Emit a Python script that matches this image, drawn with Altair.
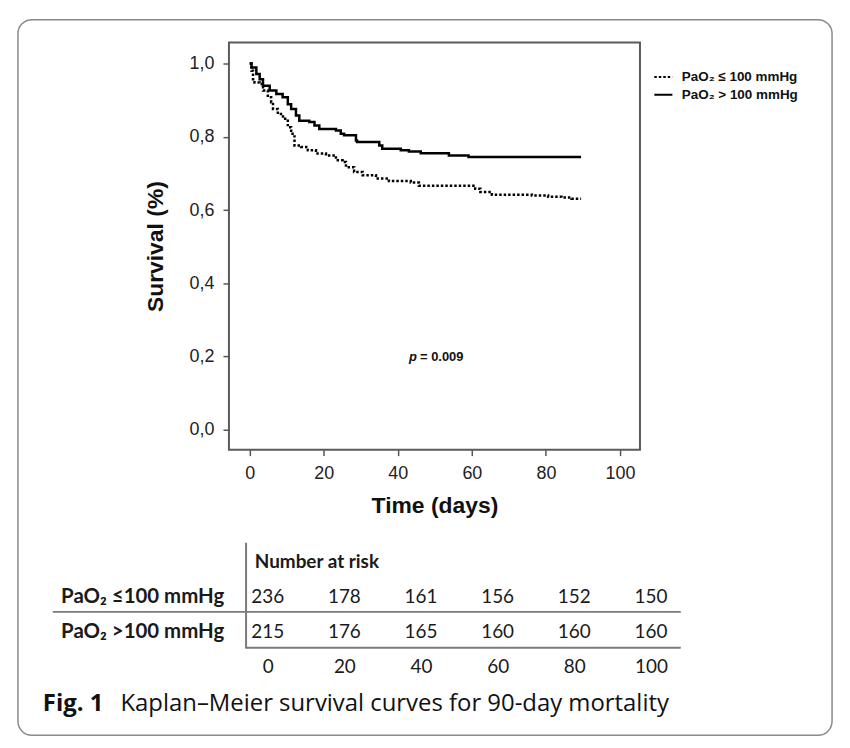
import altair as alt
import pandas as pd

# ---- Kaplan-Meier step points ----
LOW = "PaO₂ ≤ 100 mmHg"
HIGH = "PaO₂ > 100 mmHg"

low_days = [0, 0.5, 0.9, 1.3, 2.7, 3.6, 4.9, 5.8, 6.3, 7.6, 9.0, 10.3, 11.2, 12.1, 13.9,
            15.7, 17.9, 20.6, 23.3, 25.1, 26.0, 28.2, 30.5, 34.1, 37.6, 43.5, 45.7, 60.9,
            62.3, 65.4, 76.2, 80.6, 84.2, 86.9, 89.5]
low_surv = [1.0, 0.980, 0.957, 0.948, 0.944, 0.926, 0.908, 0.894, 0.876, 0.862, 0.849, 0.826,
            0.808, 0.776, 0.772, 0.763, 0.754, 0.749, 0.736, 0.731, 0.717, 0.704, 0.695, 0.686,
            0.679, 0.675, 0.666, 0.658, 0.649, 0.642, 0.640, 0.636, 0.634, 0.631, 0.631]
high_days = [0, 0.5, 1.8, 2.7, 3.6, 5.4, 7.2, 8.9, 10.3, 11.2, 12.5, 13.4, 16.1, 17.5, 18.8,
             23.3, 24.6, 25.5, 28.7, 29.0, 35.0, 35.8, 40.8, 43.0, 46.2, 53.8, 59.1, 89.5]
high_surv = [1.0, 0.989, 0.971, 0.957, 0.939, 0.926, 0.917, 0.908, 0.889, 0.876, 0.858, 0.844,
             0.840, 0.831, 0.821, 0.817, 0.808, 0.804, 0.790, 0.786, 0.776, 0.767, 0.763, 0.760,
             0.755, 0.749, 0.745, 0.745]

x_ticks = [0, 20, 40, 60, 80, 100]
y_ticks = [0.0, 0.2, 0.4, 0.6, 0.8, 1.0]

p_label_italic = ["p"]
p_label_rest = ["= 0.009"]
p_day = [46.0]
p_surv = [0.2]

# ---- Number-at-risk table ----
ROW_LOW = "PaO₂ ≤100 mmHg"
ROW_HIGH = "PaO₂ >100 mmHg"
HEADER_ROW = " "
risk_times = ["0", "20", "40", "60", "80", "100"]
risk_low = [236, 178, 161, 156, 152, 150]
risk_high = [215, 176, 165, 160, 160, 160]
header_text = ["Number at risk"]

caption_bold = ["Fig. 1"]
caption_rest = ["Kaplan–Meier survival curves for 90-day mortality"]

# ---- data frames ----
km = pd.DataFrame({
    "day": low_days + high_days,
    "surv": low_surv + high_surv,
    "group": [LOW] * len(low_days) + [HIGH] * len(high_days),
})
ptxt = pd.DataFrame({"day": p_day, "surv": p_surv, "a": p_label_italic, "b": p_label_rest})
tbl = pd.DataFrame({
    "col": risk_times * 2,
    "row": [ROW_LOW] * len(risk_times) + [ROW_HIGH] * len(risk_times),
    "n": risk_low + risk_high,
})
hdr = pd.DataFrame({"col": [risk_times[0]], "row": [HEADER_ROW], "label": header_text})
one = pd.DataFrame({"k": [0]})

AX_FONT = "Liberation Sans"
TBL_FONT = "Lato"
CAP_FONT = "Open Sans"

x_scale = alt.Scale(domain=[-5.6, 105.4], nice=False, zero=False)
y_scale = alt.Scale(domain=[-0.054, 1.057], nice=False, zero=False)

lines = alt.Chart(km).mark_line(interpolate="step-after", color="black", strokeWidth=2.5).encode(
    x=alt.X("day:Q", scale=x_scale,
            axis=alt.Axis(values=x_ticks, format="d", title="Time (days)", grid=False, domain=False,
                          tickSize=6, tickWidth=1.5, tickColor="#555", labelFont=AX_FONT,
                          labelFontSize=18, labelColor="#222", labelBaseline="middle", labelPadding=18,
                          titleFont=AX_FONT, titleFontSize=23, titleFontWeight="bold",
                          titleColor="#111", titlePadding=12)),
    y=alt.Y("surv:Q", scale=y_scale,
            axis=alt.Axis(values=y_ticks, labelExpr="replace(format(datum.value, '.1f'), '.', ',')",
                          title="Survival (%)", grid=False, domain=False, tickSize=6, tickWidth=1.5,
                          tickColor="#555", labelFont=AX_FONT, labelFontSize=18, labelColor="#222",
                          labelPadding=9, titleFont=AX_FONT, titleFontSize=23, titleFontWeight="bold",
                          titleColor="#111", titlePadding=22)),
    strokeDash=alt.StrokeDash(
        "group:N",
        scale=alt.Scale(domain=[LOW, HIGH], range=[[2.5, 2], [1, 0]]),
        legend=alt.Legend(title=None, orient="none", legendX=426, legendY=24, symbolType="stroke",
                          symbolSize=330, symbolStrokeWidth=2, symbolStrokeColor="black",
                          labelFont=AX_FONT, labelFontSize=13.5, labelFontWeight="bold",
                          labelColor="#111", labelOffset=8, rowPadding=1),
    ),
)

p_it = alt.Chart(ptxt).mark_text(align="right", dx=-3, font=AX_FONT, fontSize=13, fontStyle="italic",
                                  fontWeight="bold", color="#111").encode(
    x=alt.X("day:Q", scale=x_scale), y=alt.Y("surv:Q", scale=y_scale), text="a:N")
p_rest = alt.Chart(ptxt).mark_text(align="left", dx=0, font=AX_FONT, fontSize=13,
                                    fontWeight="bold", color="#111").encode(
    x=alt.X("day:Q", scale=x_scale), y=alt.Y("surv:Q", scale=y_scale), text="b:N")

plot = alt.layer(lines, p_it, p_rest).properties(
    width=413, height=409, view=alt.ViewBackground(stroke="#5a5a5a", strokeWidth=2))

# ---- table ----
tx = alt.X("col:O", sort=risk_times,
           scale=alt.Scale(type="point", domain=risk_times, padding=0.448, align=0.565),
           axis=alt.Axis(title=None, domain=False, ticks=False, tickSize=0, grid=False, labelAngle=0,
                         labelBaseline="middle", labelPadding=19, labelFont=TBL_FONT,
                         labelFontSize=19, labelColor="#1a1a1a"))
ty = alt.Y("row:O",
           scale=alt.Scale(type="point", domain=[HEADER_ROW, ROW_LOW, ROW_HIGH], padding=0.514, align=0.556),
           axis=alt.Axis(title=None, orient="left", offset=-16.7, domain=True, domainColor="#7a7a7a",
                         domainWidth=2, ticks=False, tickSize=0, grid=False, labelPadding=22,
                         labelFont=TBL_FONT, labelFontSize=20.5, labelFontWeight="bold",
                         labelColor="#1a1a1a", labelLimit=300))

nums = alt.Chart(tbl).mark_text(font=TBL_FONT, fontSize=19, color="#1a1a1a").encode(x=tx, y=ty, text="n:Q")
head = alt.Chart(hdr).mark_text(align="left", dx=-13, font=TBL_FONT, fontSize=19, fontWeight="bold",
                                color="#1a1a1a").encode(x=tx, y=ty, text="label:N")

# decorative lines and outer rounded frame
rule1 = alt.Chart(one).mark_rule(color="#7a7a7a", strokeWidth=2).encode(
    x=alt.value(-177), x2=alt.value(454), y=alt.value(70))
rule2 = alt.Chart(one).mark_rule(color="#7a7a7a", strokeWidth=2).encode(
    x=alt.value(16.7), x2=alt.value(454), y=alt.value(106))
frame = alt.Chart(one).mark_rect(fillOpacity=0, stroke="#8a8a8a", strokeWidth=1.5, cornerRadius=14).encode(
    x=alt.value(-212), x2=alt.value(606), y=alt.value(-525), y2=alt.value(194))
cap1 = alt.Chart(one).mark_text(align="left", baseline="middle", font=CAP_FONT, fontSize=24,
                                fontWeight="bold", color="#111").encode(
    x=alt.value(-187), y=alt.value(163), text=alt.value(caption_bold[0]))
cap2 = alt.Chart(one).mark_text(align="left", baseline="middle", font=CAP_FONT, fontSize=24,
                                color="#111").encode(
    x=alt.value(-109), y=alt.value(163), text=alt.value(caption_rest[0]))

table = alt.layer(frame, rule1, rule2, nums, head, cap1, cap2).properties(
    width=454, height=106, view=alt.ViewBackground(stroke="transparent"))

chart = alt.vconcat(plot, table, spacing=93, bounds="flush").properties(
    padding={"left": 8, "top": 8, "right": 8, "bottom": 8}
).configure_view(stroke="transparent").configure(background="white")

chart.save("out.html", embed_options={"renderer": "svg", "actions": False})
